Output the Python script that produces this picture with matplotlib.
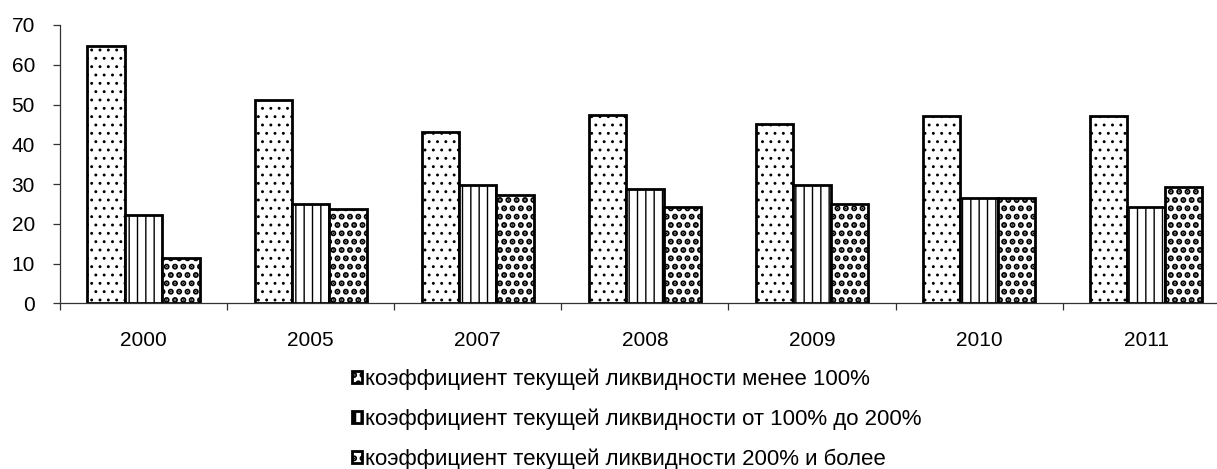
import numpy as np
import matplotlib
matplotlib.use("Agg")
import matplotlib.pyplot as plt

plt.rcParams['font.family'] = ['Liberation Sans', 'DejaVu Sans']

years = ['2000', '2005', '2007', '2008', '2009', '2010', '2011']
less_100 = [64.7, 51.1, 43.1, 47.3, 45.2, 47.0, 47.0]
from_100_to_200 = [22.2, 25.1, 29.8, 28.8, 29.8, 26.6, 24.2]
over_200 = [11.3, 23.6, 27.3, 24.3, 25.1, 26.6, 29.2]
labels = ['коэффициент текущей ликвидности менее 100%',
          'коэффициент текущей ликвидности от 100% до 200%',
          'коэффициент текущей ликвидности 200% и более']

fig = plt.figure(figsize=(12.17, 4.69), dpi=100)
ax = fig.add_axes([60 / 1217, 1 - 303.3 / 469, 1169.7 / 1217, 278.3 / 469])

x = np.arange(len(years))
w = 0.224
series = [less_100, from_100_to_200, over_200]
hatches = ['..', '||', '..']
hlw = [0.9, 1.0, 3.0]
for i, (vals, h, lab) in enumerate(zip(series, hatches, labels)):
    plt.rcParams['hatch.linewidth'] = hlw[i]
    ax.bar(x + (i - 1) * w, vals, w, color='white', edgecolor='black',
           linewidth=2.0, hatch=h, label=lab)

ax.set_xlim(-0.5, len(years) - 0.5)
ax.set_ylim(0, 70)
ax.set_yticks(range(0, 71, 10))
ax.spines['top'].set_visible(False)
ax.spines['right'].set_visible(False)
for s in ['left', 'bottom']:
    ax.spines[s].set_linewidth(0.9)
    ax.spines[s].set_color('#333333')

ax.set_xticks(np.arange(len(years) + 1) - 0.5)
ax.set_xticklabels([])
ax.set_xticks(x, minor=True)
ax.set_xticklabels(years, minor=True)
ax.tick_params(axis='x', which='major', direction='out', length=5, width=0.9, color='#333333')
ax.tick_params(axis='x', which='minor', length=0, pad=20, labelsize=15)
ax.tick_params(axis='y', direction='out', length=5, width=0.9, color='#333333',
               pad=13, labelsize=15)

fig.legend(loc='upper left', bbox_to_anchor=(352 / 1217, 1 - 368 / 469),
           frameon=False, fontsize=16, handlelength=0.45, handleheight=0.45,
           handletextpad=0.15, labelspacing=0.85, borderpad=0, borderaxespad=0)

fig.savefig('out.png', dpi=100)
